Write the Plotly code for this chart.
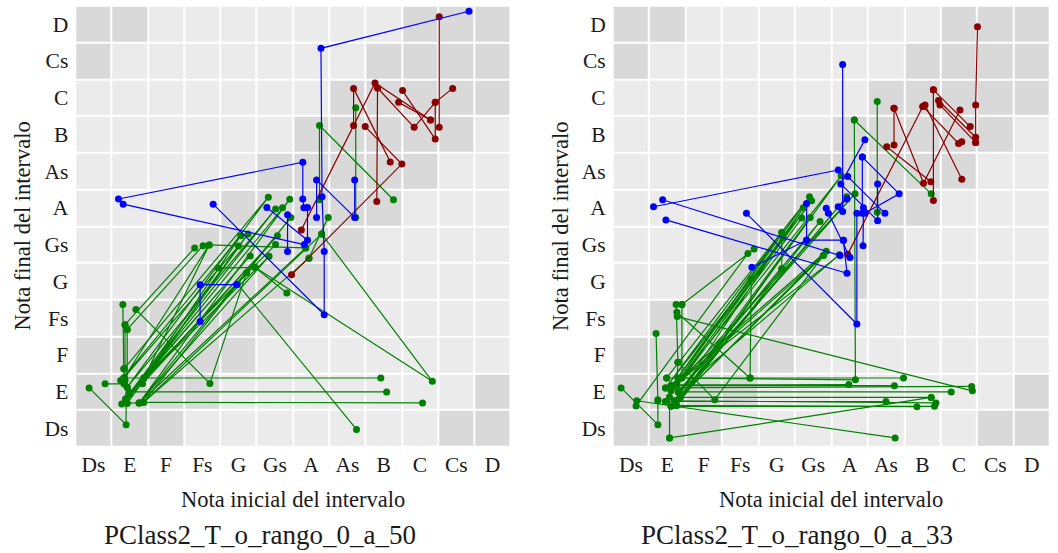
import plotly.graph_objects as go

# Note names on both axes (pitch classes, Ds at index 0)
notas = ["Ds", "E", "F", "Fs", "G", "Gs", "A", "As", "B", "C", "Cs", "D"]

# Shaded cells: 1 = darker cell (rows from Ds at the bottom to D at the top)
sombreado = [
    [1, 1, 1, 0, 0, 0, 0, 0, 0, 0, 1, 1],  # Ds
    [1, 1, 1, 1, 0, 0, 0, 0, 0, 0, 0, 1],  # E
    [1, 1, 1, 1, 1, 0, 0, 0, 0, 0, 0, 0],  # F
    [0, 1, 1, 1, 1, 1, 0, 0, 0, 0, 0, 0],  # Fs
    [0, 0, 1, 1, 1, 1, 1, 0, 0, 0, 0, 0],  # G
    [0, 0, 0, 1, 1, 1, 1, 1, 0, 0, 0, 0],  # Gs
    [0, 0, 0, 0, 1, 1, 1, 1, 1, 0, 0, 0],  # A
    [0, 0, 0, 0, 0, 1, 1, 1, 1, 1, 0, 0],  # As
    [0, 0, 0, 0, 0, 0, 1, 1, 1, 1, 1, 0],  # B
    [0, 0, 0, 0, 0, 0, 0, 1, 1, 1, 1, 1],  # C
    [1, 0, 0, 0, 0, 0, 0, 0, 1, 1, 1, 1],  # Cs
    [1, 1, 0, 0, 0, 0, 0, 0, 0, 1, 1, 1],  # D
]

# ---- Intervals, rango 0 a 50 : (nota inicial, nota final) joined in strokes ----
rojo_50 = [
    [(5.46, 4.18), (8.50, 7.19), (7.49, 8.21)],
    [(5.73, 5.40), (7.76, 9.40), (9.29, 8.39)],
    [(7.83, 9.26), (7.81, 6.17)],
    [(7.83, 9.26), (8.84, 8.19), (9.42, 8.87), (9.90, 9.25)],
    [(7.17, 8.24), (7.17, 9.25), (8.18, 7.25)],
    [(8.52, 9.19), (9.42, 7.87), (9.42, 8.87)],
    [(9.53, 11.20), (9.53, 8.19)],
    [(8.41, 8.87), (9.29, 8.39)],
]
azul_50 = [
    [(10.35, 11.35), (6.27, 10.34), (6.30, 6.30), (6.36, 4.81), (6.36, 3.09), (3.30, 6.10)],
    [(5.80, 6.00), (5.77, 6.24), (5.77, 7.24), (0.69, 6.24), (0.82, 6.10), (5.81, 5.00)],
    [(6.15, 5.74), (6.15, 6.76), (7.20, 5.74), (7.20, 6.76)],
    [(4.78, 6.01), (5.90, 5.12), (5.90, 6.01)],
    [(5.35, 5.81), (5.35, 4.81)],
    [(2.94, 2.91), (2.94, 3.91), (3.95, 3.91)],
]
verde_50 = [
    [(6.23, 6.22), (6.23, 8.24), (8.27, 6.22)],
    [(7.23, 8.72), (7.23, 5.74)],
    [(6.47, 5.74), (5.94, 4.63)],
    [(0.84, 1.62), (4.82, 6.29), (0.93, 1.12), (5.02, 5.97), (0.98, 0.93), (5.21, 6.00),
     (0.89, 0.80), (5.41, 6.23), (1.26, 0.69), (5.44, 5.74), (1.38, 0.71), (6.29, 5.29)],
    [(0.75, 1.30), (4.06, 5.24), (0.93, 0.68), (4.26, 5.29), (0.78, 0.66), (5.07, 5.24),
     (1.35, 1.21), (4.00, 4.96), (0.84, 1.37), (3.19, 4.99), (1.39, 1.37), (5.02, 5.00)],
    [(0.89, 0.80), (4.32, 4.69), (0.98, 0.93), (4.84, 4.68), (1.26, 0.69), (5.85, 4.91)],
    [(1.38, 0.71), (5.94, 4.63)],
    [(0.93, 2.69), (3.02, 4.97)],
    [(0.87, 2.82), (2.79, 4.91)],
    [(0.81, 3.37), (0.84, 1.62), (0.84, 1.37)],
    [(0.87, 2.82), (0.87, 1.30)],
    [(0.93, 2.69), (0.93, 1.12)],
    [(-0.12, 1.10), (0.90, 0.10), (0.90, 0.80)],
    [(0.32, 1.21), (0.84, 1.21)],
    [(0.84, 1.37), (1.39, 1.37), (7.92, 1.37)],
    [(0.98, 0.99), (8.08, 0.99)],
    [(0.93, 0.68), (1.26, 0.69), (1.38, 0.71), (9.07, 0.69)],
    [(1.17, 3.23), (3.21, 1.22), (4.22, 4.23)],
    [(3.97, 3.93), (7.25, -0.03)],
    [(6.29, 5.29), (9.34, 1.28), (4.45, 4.38)],
    [(3.44, 4.36), (4.45, 4.38), (5.33, 3.68)],
    [(3.19, 4.99), (5.85, 4.91)],
]

# ---- Intervals, rango 0 a 33 ----
rojo_33 = [
    [(9.51, 10.93), (9.46, 8.80), (9.46, 7.78)],
    [(8.30, 9.21), (8.30, 6.20)],
    [(8.30, 9.21), (9.31, 8.21)],
    [(8.44, 8.92), (9.46, 7.92)],
    [(8.48, 8.80), (9.46, 7.78)],
    [(8.07, 8.80), (9.08, 6.78)],
    [(8.01, 8.76), (8.99, 7.75), (9.08, 7.80)],
    [(7.22, 8.71), (7.22, 7.71)],
    [(7.22, 8.71), (8.03, 6.67), (9.03, 8.66)],
    [(7.02, 7.66), (8.23, 6.71)],
    [(5.95, 4.74), (8.01, 8.76)],
]
azul_33 = [
    [(5.69, 7.03), (0.62, 6.03)],
    [(0.87, 6.22), (5.74, 4.70)],
    [(0.96, 5.67), (5.93, 4.22), (5.83, 5.12)],
    [(3.17, 5.85), (6.20, 2.84), (6.20, 5.85)],
    [(5.81, 9.90), (5.81, 5.90)],
    [(4.82, 6.12), (4.82, 5.12), (3.32, 4.38)],
    [(4.82, 5.12), (5.83, 5.12)],
    [(6.37, 4.97), (6.38, 6.00)],
    [(6.42, 7.85), (5.76, 6.65), (6.77, 5.65), (6.77, 6.65)],
    [(6.35, 7.38), (6.35, 5.85)],
    [(6.35, 7.38), (7.36, 6.38), (6.42, 5.85)],
    [(5.95, 6.85), (6.97, 5.85)],
    [(5.36, 5.99), (5.42, 5.85), (6.01, 4.65)],
    [(5.69, 6.03), (5.93, 6.24)],
]
verde_33 = [
    [(6.76, 8.89), (6.76, 5.88)],
    [(6.13, 8.39), (8.24, 6.38)],
    [(6.13, 8.39), (6.16, 1.32), (1.29, 1.37)],
    [(0.98, 1.37), (7.48, 1.37)],
    [(1.12, 1.16), (7.23, 1.16)],
    [(1.24, 1.18), (5.98, 1.19)],
    [(0.95, 1.10), (9.35, 1.14)],
    [(1.30, 0.99), (8.79, 0.99)],
    [(1.35, 0.84), (8.24, 0.84)],
    [(0.95, 0.73), (7.00, 0.73)],
    [(1.20, 0.75), (8.37, 0.69)],
    [(1.10, 0.60), (8.33, 0.60)],
    [(1.25, 0.62), (7.85, 0.59)],
    [(1.24, 3.37), (1.29, 1.80), (1.26, 1.20)],
    [(1.40, 3.37), (1.40, 1.37)],
    [(0.69, 2.58), (0.74, 0.75)],
    [(1.06, -0.26), (1.06, 0.85)],
    [(3.27, 1.37), (3.30, 4.06)],
    [(4.14, 5.33), (4.14, 4.34)],
    [(1.06, -0.26), (8.24, 0.84)],
    [(0.16, 0.75), (7.25, -0.26)],
    [(-0.27, 1.10), (0.74, 0.10), (0.74, 0.78)],
    [(1.27, 3.04), (9.37, 1.02)],
    [(1.26, 3.16), (3.27, 1.37)],
    [(1.29, 1.80), (2.30, 0.78), (5.28, 4.70)],
    [(1.40, 3.37), (3.38, 4.88)],
    [(0.14, 0.61), (3.21, 4.76)],
    [(0.98, 1.37), (4.90, 6.30), (1.12, 1.16), (4.96, 6.19), (1.24, 1.18), (5.77, 6.87),
     (1.35, 0.84), (5.92, 6.30), (1.10, 0.60), (4.73, 6.00), (0.95, 0.73), (4.69, 5.72)],
    [(1.20, 0.75), (4.92, 5.74), (1.25, 0.62), (5.19, 5.63), (1.30, 0.99), (6.15, 6.38),
     (1.10, 1.02), (4.14, 5.33), (0.95, 1.10), (4.18, 5.18)],
    [(1.24, 1.18), (5.28, 4.70), (1.35, 0.84), (5.36, 4.82), (1.12, 1.16), (5.72, 4.72),
     (1.30, 0.99), (4.14, 4.34)],
]

COLOR_VERDE = "#008000"
COLOR_AZUL = "#0000ff"
COLOR_ROJO = "#8b0000"
CLARO = "#ebebeb"
OSCURO = "#d9d9d9"
FUENTE = "Liberation Serif"
TEXTO = "#1a1a1a"

W, H = 1058, 553


def unir(trazos):
    """Flatten a list of strokes into x/y lists separated by None."""
    xs, ys = [], []
    for t in trazos:
        for x, y in t:
            xs.append(x)
            ys.append(y)
        xs.append(None)
        ys.append(None)
    return xs, ys


fig = go.Figure()

paneles = [
    ("x", "y", verde_50, rojo_50, azul_50),
    ("x2", "y2", verde_33, rojo_33, azul_33),
]

for xa, ya, verde, rojo, azul in paneles:
    fig.add_trace(go.Heatmap(
        z=sombreado, x=list(range(12)), y=list(range(12)),
        colorscale=[[0, CLARO], [1, OSCURO]], zmin=0, zmax=1,
        showscale=False, xgap=2, ygap=2, hoverinfo="skip",
        xaxis=xa, yaxis=ya,
    ))
    for trazos, color in ((verde, COLOR_VERDE), (rojo, COLOR_ROJO), (azul, COLOR_AZUL)):
        xs, ys = unir(trazos)
        fig.add_trace(go.Scatter(
            x=xs, y=ys, mode="lines+markers",
            line=dict(color=color, width=1.2),
            marker=dict(color=color, size=7),
            connectgaps=False, showlegend=False, hoverinfo="skip",
            xaxis=xa, yaxis=ya,
        ))

# Plot areas in pixels
izq = (75.3, 510.7)
der = (612.7, 1050.0)
arriba, abajo = 5.7, 446.7
ydom = [1 - abajo / H, 1 - arriba / H]

eje = dict(
    range=[-0.5, 11.5], tickvals=list(range(12)), ticktext=notas,
    showgrid=False, zeroline=False, showline=False, ticks="",
    tickfont=dict(family=FUENTE, size=21.5, color=TEXTO),
    fixedrange=True,
)

fig.update_layout(
    width=W, height=H,
    margin=dict(l=0, r=0, t=0, b=0),
    paper_bgcolor="white", plot_bgcolor="white",
    showlegend=False,
    xaxis=dict(eje, domain=[izq[0] / W, izq[1] / W], anchor="y", ticklabelstandoff=3),
    yaxis=dict(eje, domain=ydom, anchor="x", ticklabelstandoff=6),
    xaxis2=dict(eje, domain=[der[0] / W, der[1] / W], anchor="y2", ticklabelstandoff=3),
    yaxis2=dict(eje, domain=ydom, anchor="x2", ticklabelstandoff=6),
)

anot = []
for (x0, x1), centro_panel, titulo in ((izq, 260, "PClass2_T_o_rango_0_a_50"),
                                       (der, 797, "PClass2_T_o_rango_0_a_33")):
    anot.append(dict(
        text="Nota inicial del intervalo", x=(x0 + x1) / 2 / W, y=1 - 499 / H,
        xref="paper", yref="paper", showarrow=False, xanchor="center", yanchor="middle",
        font=dict(family=FUENTE, size=22.5, color=TEXTO),
    ))
    anot.append(dict(
        text="Nota final del intervalo", x=(x0 - 53) / W, y=1 - (arriba + abajo) / 2 / H,
        xref="paper", yref="paper", showarrow=False, xanchor="center", yanchor="middle",
        textangle=-90, font=dict(family=FUENTE, size=22.5, color=TEXTO),
    ))
    anot.append(dict(
        text=titulo, x=centro_panel / W, y=1 - 535 / H,
        xref="paper", yref="paper", showarrow=False, xanchor="center", yanchor="middle",
        font=dict(family=FUENTE, size=27, color=TEXTO),
    ))
fig.update_layout(annotations=anot)

fig.write_html("out.html")
